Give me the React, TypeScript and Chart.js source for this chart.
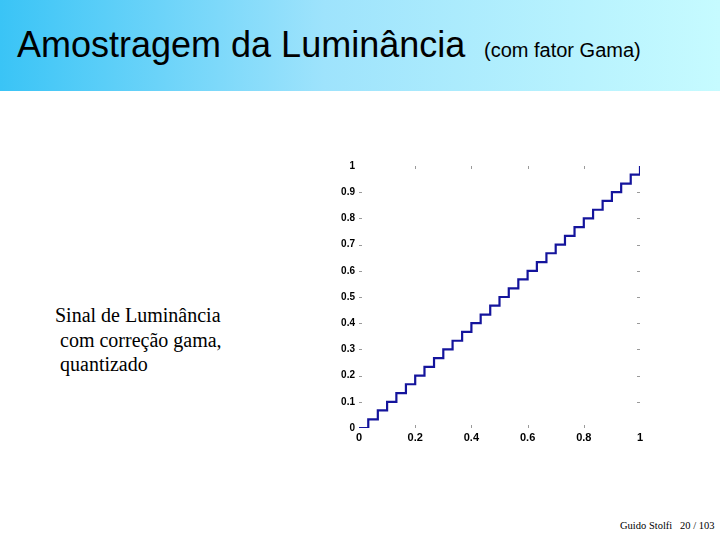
import React, { useEffect, useRef } from "react";
import { Chart, registerables } from "chart.js";

Chart.register(...registerables);

const xValues = [
  0, 0.033, 0.067, 0.1, 0.133, 0.167, 0.2, 0.233, 0.267, 0.3, 0.333,
  0.367, 0.4, 0.433, 0.467, 0.5, 0.533, 0.567, 0.6, 0.633, 0.667,
  0.7, 0.733, 0.767, 0.8, 0.833, 0.867, 0.9, 0.933, 0.967, 1,
];
const yValues = [
  0, 0.033, 0.067, 0.1, 0.133, 0.167, 0.2, 0.233, 0.267, 0.3, 0.333,
  0.367, 0.4, 0.433, 0.467, 0.5, 0.533, 0.567, 0.6, 0.633, 0.667,
  0.7, 0.733, 0.767, 0.8, 0.833, 0.867, 0.9, 0.933, 0.967, 1,
];
const xTickLabels = ["0", "0.2", "0.4", "0.6", "0.8", "1"];
const yTickLabels = ["0", "0.1", "0.2", "0.3", "0.4", "0.5", "0.6", "0.7", "0.8", "0.9", "1"];

const tinyTicks = {
  id: "tinyTicks",
  afterDraw(chart: any) {
    const { ctx, chartArea, scales } = chart;
    ctx.save();
    ctx.strokeStyle = "#9a9a9a";
    ctx.lineWidth = 1;
    const ys = scales.y;
    const xs = scales.x;
    ys.ticks.forEach((t: any) => {
      if (t.value === 0 || t.value === 1) return;
      const py = Math.round(ys.getPixelForValue(t.value)) + 0.5;
      ctx.beginPath();
      ctx.moveTo(chartArea.right - 3, py);
      ctx.lineTo(chartArea.right, py);
      ctx.stroke();
      ctx.beginPath();
      ctx.moveTo(chartArea.left, py);
      ctx.lineTo(chartArea.left + 3, py);
      ctx.stroke();
    });
    xs.ticks.forEach((t: any) => {
      if (t.value === 0 || t.value === 1) return;
      const px = Math.round(xs.getPixelForValue(t.value)) + 0.5;
      ctx.beginPath();
      ctx.moveTo(px, chartArea.top);
      ctx.lineTo(px, chartArea.top + 3);
      ctx.stroke();
      ctx.beginPath();
      ctx.moveTo(px, chartArea.bottom - 3);
      ctx.lineTo(px, chartArea.bottom);
      ctx.stroke();
    });
    ctx.restore();
  },
};

function StepChart() {
  const ref = useRef<HTMLCanvasElement | null>(null);
  useEffect(() => {
    if (!ref.current) return;
    const data = xValues.map((x, i) => ({ x, y: yValues[i] }));
    const chart = new Chart(ref.current, {
      type: "line",
      data: {
        datasets: [
          {
            data,
            stepped: "before",
            borderColor: "#14149c",
            borderWidth: 2.2,
            pointRadius: 0,
            fill: false,
          },
        ],
      },
      options: {
        animation: false,
        responsive: false,
        layout: { padding: { top: 16, right: 20, left: 0, bottom: 0 } },
        plugins: { legend: { display: false }, tooltip: { enabled: false } },
        scales: {
          x: {
            type: "linear",
            min: 0,
            max: 1,
            border: { display: false },
            grid: { display: false, drawTicks: false, tickLength: 0 },
            afterFit: (s: any) => {
              s.height = 22;
            },
            afterBuildTicks: (s: any) => {
              s.ticks = xTickLabels.map((l) => ({ value: parseFloat(l) }));
            },
            ticks: {
              padding: 3,
              color: "#000",
              font: { family: "Liberation Sans, Arial", size: 11, weight: "bold" },
              callback: (v: any) => xTickLabels[Math.round(Number(v) * 5)],
            },
          },
          y: {
            type: "linear",
            min: 0,
            max: 1,
            border: { display: false },
            grid: { display: false, drawTicks: false, tickLength: 0 },
            afterFit: (s: any) => {
              s.width = 59;
            },
            afterBuildTicks: (s: any) => {
              s.ticks = yTickLabels.map((l) => ({ value: parseFloat(l) }));
            },
            ticks: {
              padding: 4,
              color: "#000",
              font: { family: "Liberation Sans, Arial", size: 10, weight: "bold" },
              callback: (v: any) => yTickLabels[Math.round(Number(v) * 10)],
            },
          },
        },
      },
      plugins: [tinyTicks],
    });
    return () => chart.destroy();
  }, []);
  return (
    <canvas
      ref={ref}
      width={360}
      height={300}
      style={{ position: "absolute", left: 300, top: 150, width: 360, height: 300 }}
    />
  );
}

export default function App() {
  return (
    <div
      style={{
        position: "absolute",
        left: 0,
        top: 0,
        width: 720,
        height: 540,
        background: "#fff",
        overflow: "hidden",
      }}
    >
      <div
        style={{
          position: "absolute",
          left: 0,
          top: 0,
          width: 720,
          height: 91,
          background: "linear-gradient(to right, #3ac4f6 0%, #9ee3fc 45%, #c6fbff 100%)",
        }}
      />
      <div
        style={{
          position: "absolute",
          left: 17,
          top: 23,
          fontFamily: "Liberation Sans, Arial",
          fontSize: 36,
          color: "#000",
          whiteSpace: "nowrap",
          lineHeight: "44px",
        }}
      >
        Amostragem da Luminância
      </div>
      <div
        style={{
          position: "absolute",
          left: 484,
          top: 37,
          fontFamily: "Liberation Sans, Arial",
          fontSize: 20,
          color: "#000",
          whiteSpace: "nowrap",
          lineHeight: "26px",
        }}
      >
        (com fator Gama)
      </div>
      <div
        style={{
          position: "absolute",
          left: 55,
          top: 303,
          fontFamily: "Liberation Serif, Times New Roman",
          fontSize: 20,
          color: "#000",
          lineHeight: "24.5px",
          whiteSpace: "pre",
        }}
      >
        {"Sinal de Luminância\n com correção gama,\n quantizado"}
      </div>
      <div
        style={{
          position: "absolute",
          left: 620,
          top: 519,
          fontFamily: "Liberation Serif, Times New Roman",
          fontSize: 10.5,
          color: "#000",
          whiteSpace: "pre",
          lineHeight: "14px",
        }}
      >
        {"Guido Stolfi   20 / 103"}
      </div>
      <StepChart />
    </div>
  );
}
